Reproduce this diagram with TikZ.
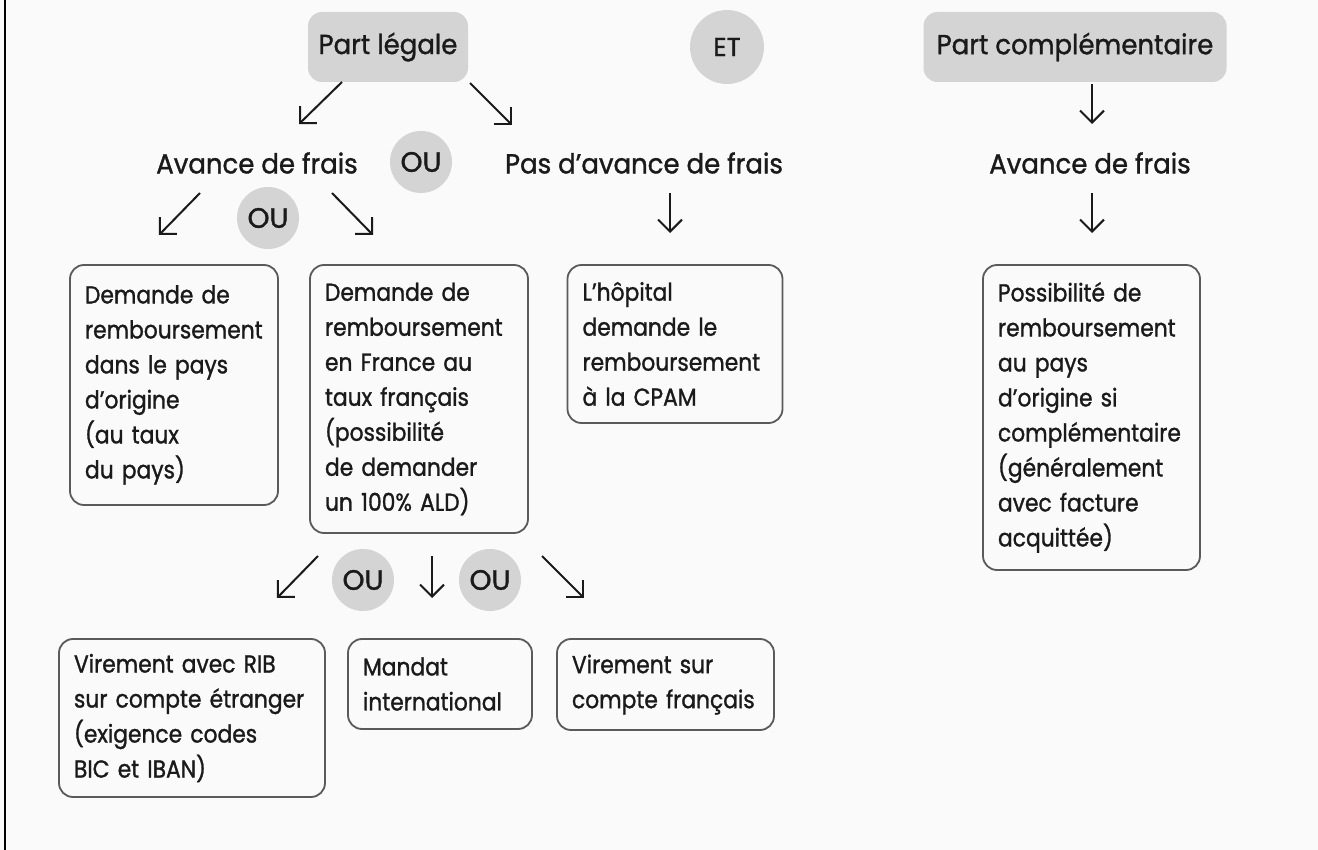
\documentclass[tikz,border=0pt]{standalone}
\usepackage{fontspec}
\setmainfont{Poppins}[FakeBold=1.2,FakeStretch=0.945]
\newfontfamily\boxfont{Poppins}[FakeStretch=0.89,FakeBold=1.2]
\newfontfamily\orfont{Poppins}[FakeBold=1.2]
\usetikzlibrary{arrows.meta}
\definecolor{lgray}{HTML}{D4D4D4}
\definecolor{bordergray}{HTML}{5A5A5A}
\definecolor{ink}{HTML}{1A1A1A}
\begin{document}
\begin{tikzpicture}[x=1pt,y=-1pt,
  lbl/.style={font=\fontsize{27.5}{30}\selectfont, inner sep=0pt, text=ink},
  gbox/.style={fill=lgray, rounded corners=14pt, font=\fontsize{27.5}{30}\selectfont, inner sep=0pt, text=ink},
  orbox/.style={circle, fill=lgray, font=\orfont\fontsize{28}{30}\selectfont, inner sep=0pt, minimum size=62pt, text=ink},
  tbox/.style={draw=bordergray, line width=1.8pt, rounded corners=14pt, align=left,
    font=\boxfont\fontsize{24.5}{35}\selectfont, inner xsep=15pt, inner ysep=0pt, text=ink},
  arr/.style={-{Straight Barb[length=12pt,width=24pt]}, line width=2pt, draw=ink}
]
\useasboundingbox (0,0) rectangle (1318,850);
\fill[white!98!black] (0,0) rectangle (1318,850);
\draw[line width=2.5pt, black] (5,0) -- (5,850);

% top row
\node[gbox, minimum width=160pt, minimum height=70pt] (pl) at (388,47) {Part légale};
\node[orbox, minimum size=74pt, font=\orfont\fontsize{26}{30}\selectfont] (et) at (727,47) {ET};
\node[gbox, minimum width=303pt, minimum height=70pt] (pc) at (1075,47) {Part complémentaire};

% second row
\node[lbl] (af1) at (257,163) {Avance de frais};
\node[orbox] (ou1) at (421,162) {OU};
\node[lbl] (pa) at (644,163) {Pas d’avance de frais};
\node[lbl] (af2) at (1090,163) {Avance de frais};
\node[orbox] (ou2) at (268,218) {OU};

% boxes
\node[tbox, text width=178pt, minimum height=240pt] (b1) at (174,385)
  {Demande de\\remboursement\\dans le pays\\d’origine\\(au taux\\du pays)};
\node[tbox, text width=188pt, minimum height=268pt] (b2) at (419,399)
  {Demande de\\remboursement\\en France au\\taux français\\(possibilité\\de demander\\un 100\% ALD)};
\node[tbox, text width=185pt, minimum height=158pt] (b3) at (675,344)
  {L’hôpital\\demande le\\remboursement\\à la CPAM};
\node[tbox, text width=187pt, minimum height=305pt] (b4) at (1091.5,417.5)
  {Possibilité de\\remboursement\\au pays\\d’origine si\\complémentaire\\(généralement\\avec facture\\acquittée)};

% bottom
\node[orbox] (ou3) at (363,580) {OU};
\node[orbox] (ou4) at (490,580) {OU};
\node[tbox, text width=236pt, minimum height=158pt] (b5) at (192,718)
  {Virement avec RIB\\sur compte étranger\\(exigence codes\\BIC et IBAN)};
\node[tbox, text width=154pt, minimum height=90pt] (b6) at (440,684)
  {Mandat\\international};
\node[tbox, text width=187pt, minimum height=91pt] (b7) at (665.5,684.5)
  {Virement sur\\compte français};

% arrow end points
\coordinate (a1s) at (342,82);  \coordinate (a1e) at (299,124);
\coordinate (a2s) at (470,83);  \coordinate (a2e) at (512,125);
\coordinate (a3s) at (1092,84); \coordinate (a3e) at (1092,124);
\coordinate (a4s) at (200,193); \coordinate (a4e) at (159,235);
\coordinate (a5s) at (332,193); \coordinate (a5e) at (373,235);
\coordinate (a6s) at (670,193); \coordinate (a6e) at (670,233);
\coordinate (a7s) at (1092,193);\coordinate (a7e) at (1092,233);
\coordinate (a8s) at (318,556); \coordinate (a8e) at (277,598);
\coordinate (a9s) at (432,556); \coordinate (a9e) at (432,598);
\coordinate (a10s) at (542,556);\coordinate (a10e) at (584,598);

\draw[arr] (a1s) -- (a1e);
\draw[arr] (a2s) -- (a2e);
\draw[arr] (a3s) -- (a3e);
\draw[arr] (a4s) -- (a4e);
\draw[arr] (a5s) -- (a5e);
\draw[arr] (a6s) -- (a6e);
\draw[arr] (a7s) -- (a7e);
\draw[arr] (a8s) -- (a8e);
\draw[arr] (a9s) -- (a9e);
\draw[arr] (a10s) -- (a10e);
\end{tikzpicture}
\end{document}
